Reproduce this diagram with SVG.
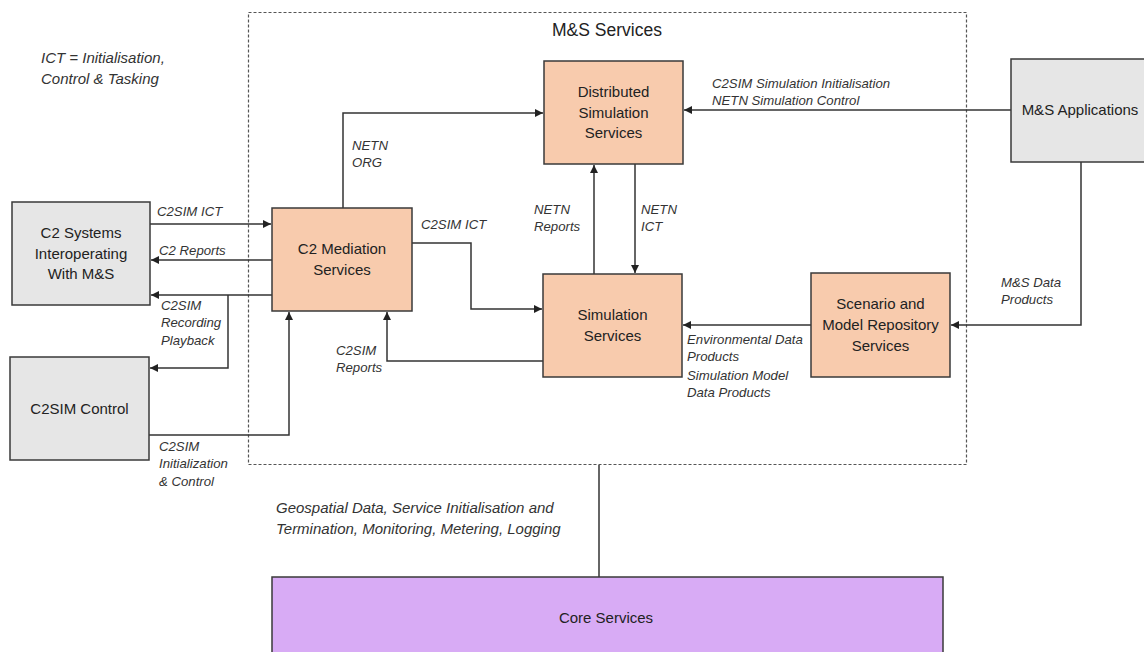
<svg xmlns="http://www.w3.org/2000/svg" width="1144" height="652" viewBox="0 0 1144 652">
<style>
.node{stroke:#3a3a3a;stroke-width:1.5}
.peach{fill:#f8cbad}
.grey{fill:#e6e6e6}
.core{fill:#d8abf5}
.nt{font-family:"Liberation Sans",Arial,sans-serif;font-size:15px;fill:#222;text-anchor:middle}
.lb{font-family:"Liberation Sans",Arial,sans-serif;font-size:13.2px;font-style:italic;fill:#333}
.note{font-family:"Liberation Sans",Arial,sans-serif;font-size:15px;font-style:italic;fill:#333}
.title{font-family:"Liberation Sans",Arial,sans-serif;font-size:17.5px;fill:#222;text-anchor:middle}
.ln{fill:none;stroke:#333;stroke-width:1.5}
</style>
<defs>
<marker id="ah" viewBox="0 0 10 10" refX="10" refY="5" markerWidth="8" markerHeight="8" markerUnits="userSpaceOnUse" orient="auto">
<path d="M0,0 L10,5 L0,10 z" fill="#222"/>
</marker>
</defs>
<rect width="1144" height="652" fill="#fff"/>

<g id="ms-services-boundary">
<rect x="248.5" y="12.5" width="718" height="452" fill="none" stroke="#555" stroke-width="1.2" stroke-dasharray="3,2"/>
<text class="title" x="607" y="36">M&amp;S Services</text>
</g>

<g id="note">
<text class="note" x="41" y="63">ICT = Initialisation,</text>
<text class="note" x="41" y="84">Control &amp; Tasking</text>
</g>

<g id="connectors">
<path class="ln" d="M1011,110 L684,110" marker-end="url(#ah)"/>
<path class="ln" d="M1081,162 L1081,325 L951,325" marker-end="url(#ah)"/>
<path class="ln" d="M811,325 L683,325" marker-end="url(#ah)"/>
<path class="ln" d="M594,274 L594,165" marker-end="url(#ah)"/>
<path class="ln" d="M635,164 L635,273" marker-end="url(#ah)"/>
<path class="ln" d="M343,208 L343,113 L543,113" marker-end="url(#ah)"/>
<path class="ln" d="M412,243 L471,243 L471,309 L542,309" marker-end="url(#ah)"/>
<path class="ln" d="M543,361 L387,361 L387,312" marker-end="url(#ah)"/>
<path class="ln" d="M150,224 L271,224" marker-end="url(#ah)"/>
<path class="ln" d="M272,260 L151,260" marker-end="url(#ah)"/>
<path class="ln" d="M272,295 L151,295" marker-end="url(#ah)"/>
<path class="ln" d="M228,295 L228,368 L150,368" marker-end="url(#ah)"/>
<path class="ln" d="M149,435 L289,435 L289,312" marker-end="url(#ah)"/>
<path class="ln" d="M599,465 L599,577"/>

<text class="lb" x="712" y="88">C2SIM Simulation Initialisation</text>
<text class="lb" x="712" y="105">NETN Simulation Control</text>
<text class="lb" x="1001" y="287">M&amp;S Data</text>
<text class="lb" x="1001" y="304">Products</text>
<text class="lb" x="687" y="344">Environmental Data</text>
<text class="lb" x="687" y="361">Products</text>
<text class="lb" x="687" y="380">Simulation Model</text>
<text class="lb" x="687" y="397">Data Products</text>
<text class="lb" x="534" y="214">NETN</text>
<text class="lb" x="534" y="231">Reports</text>
<text class="lb" x="641" y="214">NETN</text>
<text class="lb" x="641" y="231">ICT</text>
<text class="lb" x="352" y="150">NETN</text>
<text class="lb" x="352" y="167">ORG</text>
<text class="lb" x="421" y="229">C2SIM ICT</text>
<text class="lb" x="336" y="355">C2SIM</text>
<text class="lb" x="336" y="372">Reports</text>
<text class="lb" x="157" y="216">C2SIM ICT</text>
<text class="lb" x="159" y="255">C2 Reports</text>
<text class="lb" x="161" y="310">C2SIM</text>
<text class="lb" x="161" y="327">Recording</text>
<text class="lb" x="161" y="345">Playback</text>
<text class="lb" x="159" y="451">C2SIM</text>
<text class="lb" x="159" y="468">Initialization</text>
<text class="lb" x="159" y="486">&amp; Control</text>
<text class="note" x="276" y="513">Geospatial Data, Service Initialisation and</text>
<text class="note" x="276" y="534">Termination, Monitoring, Metering, Logging</text>
</g>

<g id="dss">
<rect class="node peach" x="544" y="61" width="139" height="103"/>
<text class="nt" x="613.5" y="97">Distributed</text>
<text class="nt" x="613.5" y="118">Simulation</text>
<text class="nt" x="613.5" y="138">Services</text>
</g>

<g id="ms-applications">
<rect class="node grey" x="1011" y="59" width="140" height="103"/>
<text class="nt" x="1080" y="115">M&amp;S Applications</text>
</g>

<g id="scenario">
<rect class="node peach" x="811" y="273" width="139" height="104"/>
<text class="nt" x="880.5" y="309">Scenario and</text>
<text class="nt" x="880.5" y="330">Model Repository</text>
<text class="nt" x="880.5" y="351">Services</text>
</g>

<g id="simulation">
<rect class="node peach" x="543" y="274" width="139" height="103"/>
<text class="nt" x="612.5" y="320">Simulation</text>
<text class="nt" x="612.5" y="341">Services</text>
</g>

<g id="c2-mediation">
<rect class="node peach" x="272" y="208" width="140" height="103"/>
<text class="nt" x="342" y="254">C2 Mediation</text>
<text class="nt" x="342" y="275">Services</text>
</g>

<g id="c2-systems">
<rect class="node grey" x="12" y="202" width="138" height="103"/>
<text class="nt" x="81" y="238">C2 Systems</text>
<text class="nt" x="81" y="259">Interoperating</text>
<text class="nt" x="81" y="279">With M&amp;S</text>
</g>

<g id="c2sim-control">
<rect class="node grey" x="10" y="357" width="139" height="103"/>
<text class="nt" x="79.5" y="414">C2SIM Control</text>
</g>

<g id="core-services">
<rect class="node core" x="272" y="577" width="671" height="80"/>
<text class="nt" x="606" y="623">Core Services</text>
</g>
</svg>
